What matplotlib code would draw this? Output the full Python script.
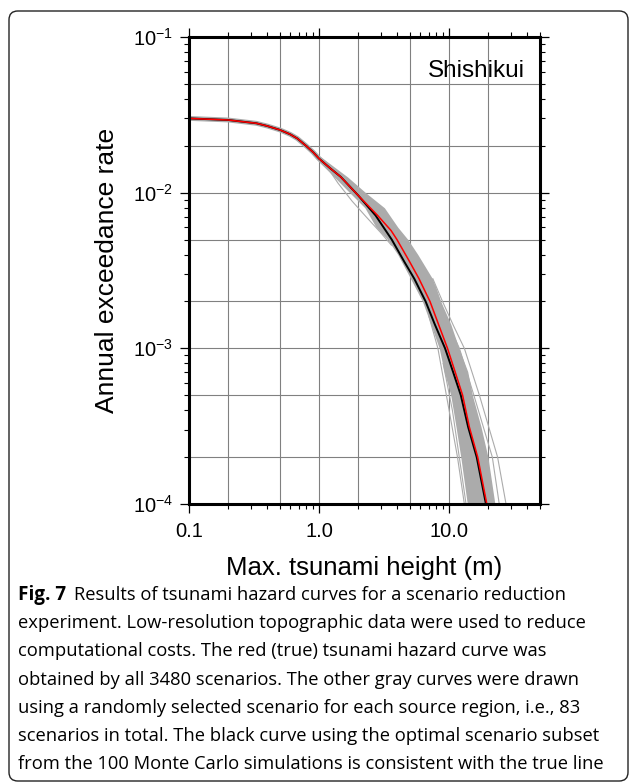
import matplotlib
matplotlib.use("Agg")
import matplotlib.pyplot as plt
from matplotlib.ticker import LogLocator, FuncFormatter, NullFormatter
from matplotlib.patches import FancyBboxPatch

plt.rcParams['font.family'] = ['Liberation Sans', 'DejaVu Sans']
plt.rcParams['mathtext.fontset'] = 'custom'
plt.rcParams['mathtext.rm'] = 'Liberation Sans'
plt.rcParams['mathtext.it'] = 'Liberation Sans:italic'

# true hazard curve (all 3480 scenarios), red
height_true = [0.1, 0.2, 0.33, 0.4, 0.5, 0.6, 0.68, 0.8, 0.9, 1.0, 1.2, 1.47,
               2.0, 2.82, 3.58, 3.97, 5.0, 5.87, 7.13, 8.28, 9.72, 11.1, 12.7,
               14.3, 16.6, 19.5, 21.5]
rate_true = [0.0300, 0.0293, 0.0279, 0.0268, 0.0253, 0.0237, 0.0223, 0.0199,
             0.0182, 0.01655, 0.0145, 0.01262, 0.0096, 0.00714, 0.00571,
             0.0050, 0.00357, 0.0028, 0.0020, 0.00143, 0.0010, 0.00071, 0.0005,
             0.000313, 0.0002, 0.0001, 0.00007]

# optimal scenario subset, black
height_opt = [0.1, 0.2, 0.33, 0.4, 0.5, 0.6, 0.68, 0.8, 0.9, 1.0, 1.2, 1.47,
              2.0, 2.72, 3.62, 4.55, 5.4, 6.6, 7.75, 9.31, 10.7, 12.3, 14.0,
              16.3, 19.2, 21.2]
rate_opt = [0.0300, 0.0293, 0.0279, 0.0268, 0.0253, 0.0237, 0.0223, 0.0199,
            0.0182, 0.01655, 0.0145, 0.01262, 0.0096, 0.00714, 0.0050, 0.00357,
            0.0028, 0.0020, 0.00143, 0.0010, 0.00071, 0.0005, 0.000313,
            0.0002, 0.0001, 0.00007]

# gray curves (random scenario per region): common upper part
height_gray_top = [0.1, 0.2, 0.33, 0.4, 0.5, 0.6, 0.68, 0.8, 0.9, 1.0, 1.2, 1.47]
rate_gray_top = [0.0300, 0.0293, 0.0279, 0.0268, 0.0253, 0.0237, 0.0223,
                 0.0199, 0.0182, 0.01655, 0.0145, 0.01262]

# gray curves: spread of the bundle below 0.02
band_rate = [0.0185, 0.0166, 0.0126, 0.0100, 0.0080, 0.0060, 0.0050, 0.0040,
             0.0028, 0.0020, 0.00143, 0.0010, 0.00071, 0.0005, 0.000313,
             0.0002, 0.0001, 0.00007]
band_left = [0.84, 0.94, 1.31, 1.72, 2.25, 2.74, 3.37, 4.03, 5.06, 6.24, 7.22,
             8.4, 9.15, 10.3, 11.3, 12.3, 13.8, 14.8]
band_right = [0.90, 1.07, 1.66, 2.28, 3.18, 4.03, 4.82, 5.75, 7.45, 8.63, 10.3,
              11.9, 13.9, 15.1, 17.6, 19.9, 22.5, 24.5]

# single gray curves outside the bundle
outliers = [
    ([7.5, 8.9, 10.8, 13.1, 17.1, 23.6, 27.4, 29.0],
     [0.0028, 0.0020, 0.0014, 0.0010, 0.0005, 0.0002, 0.0001, 0.00008]),
    ([7.8, 9.6, 12.0, 15.5, 21.5, 24.3, 26.0],
     [0.0025, 0.0015, 0.0010, 0.0005, 0.0002, 0.0001, 0.00008]),
    ([7.0, 8.2, 10.0, 11.6, 13.1, 13.8],
     [0.0016, 0.0010, 0.0004, 0.0002, 0.0001, 0.00008]),
    ([9.0, 10.6, 12.2, 13.5, 14.2],
     [0.0008, 0.0004, 0.00018, 0.0001, 0.00008]),
    ([1.1, 1.4, 1.8, 2.3, 3.0, 3.6],
     [0.0155, 0.0115, 0.0088, 0.0070, 0.0055, 0.0046]),
]

grid_x = [0.2, 0.5, 1, 2, 5, 10, 20]
grid_y = [2e-4, 5e-4, 1e-3, 2e-3, 5e-3, 1e-2, 2e-2, 5e-2]

caption = [
    "experiment. Low-resolution topographic data were used to reduce",
    "computational costs. The red (true) tsunami hazard curve was",
    "obtained by all 3480 scenarios. The other gray curves were drawn",
    "using a randomly selected scenario for each source region, i.e., 83",
    "scenarios in total. The black curve using the optimal scenario subset",
    "from the 100 Monte Carlo simulations is consistent with the true line",
]

fig = plt.figure(figsize=(6.29, 7.82), dpi=100)
ax = fig.add_axes([189/629, 1 - 504/782, (540 - 189)/629, (504 - 37)/782])
ax.set_xscale('log')
ax.set_yscale('log')
ax.set_xlim(0.1, 50)
ax.set_ylim(1e-4, 1e-1)

for v in grid_x:
    ax.axvline(v, color='#808080', lw=0.8, zorder=1)
for v in grid_y:
    ax.axhline(v, color='#808080', lw=0.8, zorder=1)

gray = '#ababab'
ax.fill_betweenx(band_rate, band_left, band_right, color=gray, lw=0, zorder=2)
ax.plot(height_gray_top, rate_gray_top, color=gray, lw=3.5, zorder=2,
        solid_capstyle='round')
for hx, ry in outliers:
    ax.plot(hx, ry, color=gray, lw=0.8, zorder=2)
ax.plot(height_opt, rate_opt, color='black', lw=1.4, zorder=3)
ax.plot(height_true, rate_true, color='red', lw=1.1, zorder=4)

ax.xaxis.set_major_locator(LogLocator(base=10, numticks=10))
ax.xaxis.set_minor_locator(LogLocator(base=10, subs=range(2, 10), numticks=20))
ax.xaxis.set_major_formatter(FuncFormatter(lambda v, p: f'{v:.1f}'))
ax.xaxis.set_minor_formatter(NullFormatter())
ax.yaxis.set_minor_locator(LogLocator(base=10, subs=range(2, 10), numticks=20))
ax.yaxis.set_minor_formatter(NullFormatter())

ax.tick_params(which='both', direction='out', top=True, right=True,
               labelsize=14.5, color='black')
ax.tick_params(which='major', length=6.5, width=0.9, pad=5)
ax.tick_params(axis='x', which='major', pad=6.5)
ax.tick_params(which='minor', length=3.3, width=0.8)
for s in ax.spines.values():
    s.set_linewidth(2.2)
    s.set_zorder(5)

ax.set_xlabel('Max. tsunami height (m)', fontsize=18.5, labelpad=11)
ax.set_ylabel('Annual exceedance rate', fontsize=19, labelpad=10)
ax.text(0.957, 0.928, 'Shishikui', transform=ax.transAxes, ha='right',
        va='center', fontsize=17.5)

# frame around figure and caption
box = FancyBboxPatch((9/629, 1 - 781/782), (628 - 9)/629, (781 - 11)/782,
                     boxstyle='round,pad=0,rounding_size=0.014',
                     mutation_aspect=629/782, transform=fig.transFigure,
                     fill=False, lw=1.0, ec='#222222')
fig.patches.append(box)

cap_font = ['Open Sans', 'DejaVu Sans']
cap_size = 13.2
x0 = 18/629
line_h = 28.2
y_first = 600
t = fig.text(x0, 1 - y_first/782, 'Fig. 7', fontsize=cap_size + 0.4,
             family=cap_font, weight='bold', va='baseline')
r = fig.canvas.get_renderer()
bb = t.get_window_extent(renderer=r)
fig.text(bb.x1/629 + 8/629, 1 - y_first/782,
         'Results of tsunami hazard curves for a scenario reduction',
         fontsize=cap_size, family=cap_font, va='baseline')
for i, line in enumerate(caption):
    fig.text(x0, 1 - (y_first + (i + 1)*line_h)/782, line, fontsize=cap_size,
             family=cap_font, va='baseline')

fig.savefig('out.png', dpi=100)
